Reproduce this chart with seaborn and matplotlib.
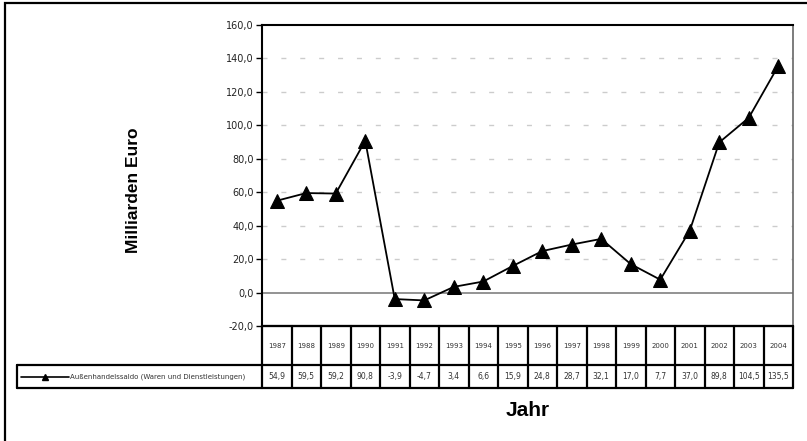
import matplotlib
matplotlib.use("Agg")
import matplotlib.pyplot as plt
import seaborn as sns
import pandas as pd
from matplotlib.lines import Line2D
from matplotlib.patches import Rectangle

years = [1987, 1988, 1989, 1990, 1991, 1992, 1993, 1994, 1995,
         1996, 1997, 1998, 1999, 2000, 2001, 2002, 2003, 2004]
saldo = [54.9, 59.5, 59.2, 90.8, -3.9, -4.7, 3.4, 6.6, 15.9,
         24.8, 28.7, 32.1, 17.0, 7.7, 37.0, 89.8, 104.5, 135.5]
series_name = "Außenhandelssaldo (Waren und Dienstleistungen)"
y_ticks = [-20, 0, 20, 40, 60, 80, 100, 120, 140, 160]

sns.set_theme(style="white")
plt.rcParams["font.family"] = ["DejaVu Sans"]

df = pd.DataFrame({"Jahr": years, "Saldo": saldo})

W, H = 807, 441
fig = plt.figure(figsize=(W / 100, H / 100), dpi=100)
fig.patch.set_facecolor("white")

# outer chart frame
fig.patches.append(Rectangle((5 / W, -0.05), 1.1, 1 - 3 / H + 0.05,
                             transform=fig.transFigure, fill=False,
                             edgecolor="black", linewidth=1.6, zorder=0))

left, right, top, bottom = 262, 793, 25, 326
ax = fig.add_axes([left / W, 1 - bottom / H, (right - left) / W, (bottom - top) / H])
ax.set_facecolor("white")

sns.lineplot(data=df, x="Jahr", y="Saldo", ax=ax, color="black", linewidth=1.3,
             marker="^", markersize=9.5, markeredgecolor="black",
             markerfacecolor="black", zorder=5)

ax.set_xlim(years[0] - 0.5, years[-1] + 0.5)
ax.set_ylim(y_ticks[0], y_ticks[-1])
ax.set_yticks(y_ticks)
ax.set_yticklabels([f"{v:.1f}".replace(".", ",") for v in y_ticks],
                   fontsize=7, color="#222222")
ax.set_xticks([])
ax.set_xlabel("")
ax.set_ylabel("")
ax.tick_params(axis="y", direction="out", length=4, width=1, color="black", pad=2, left=True)

for v in y_ticks[1:-1]:
    if v == 0:
        ax.axhline(0, color="#808080", linewidth=1.2, zorder=1)
    else:
        ax.axhline(v, color="#cccccc", linewidth=1, dashes=(3.6, 10), zorder=1)

for side in ["left", "top", "bottom"]:
    ax.spines[side].set_visible(True)
    ax.spines[side].set_color("black")
    ax.spines[side].set_linewidth(1.5)
ax.spines["right"].set_color("#666666")
ax.spines["right"].set_linewidth(1.2)

# data table below the plot
trans = ax.get_xaxis_transform()
y_top, y_mid, y_bot = 0.0, -39 / 301, -62 / 301
x0, x1 = years[0] - 0.5, years[-1] + 0.5
legend_left = x0 - (left - 17) / ((right - left) / len(years))
lw_tab = 1.6
ax.add_line(Line2D([x0, x1], [y_top, y_top], transform=trans, color="black", lw=lw_tab, clip_on=False))
ax.add_line(Line2D([legend_left, x1], [y_mid, y_mid], transform=trans, color="black", lw=lw_tab, clip_on=False))
ax.add_line(Line2D([legend_left, x1], [y_bot, y_bot], transform=trans, color="black", lw=lw_tab, clip_on=False))
ax.add_line(Line2D([legend_left, legend_left], [y_mid, y_bot], transform=trans, color="black", lw=lw_tab, clip_on=False))
for i in range(len(years) + 1):
    xb = x0 + i
    ax.add_line(Line2D([xb, xb], [y_top, y_bot], transform=trans, color="black", lw=lw_tab, clip_on=False))

for yr, val in zip(years, saldo):
    ax.text(yr, (y_top + y_mid) / 2, str(yr), transform=trans, ha="center", va="center",
            fontsize=5, color="#333333", clip_on=False)
    ax.text(yr, (y_mid + y_bot) / 2, f"{val:.1f}".replace(".", ","), transform=trans,
            ha="center", va="center", fontsize=5.5, color="#333333", clip_on=False)

# legend key inside the table
key_x0 = legend_left + (21 - 17) / 29.5
key_x1 = legend_left + (69 - 17) / 29.5
y_key = (y_mid + y_bot) / 2
ax.add_line(Line2D([key_x0, key_x1], [y_key, y_key], transform=trans, color="black", lw=1.2, clip_on=False))
ax.add_line(Line2D([(key_x0 + key_x1) / 2], [y_key], transform=trans, color="black", marker="^",
                   markersize=4, linestyle="none", clip_on=False))
ax.text(key_x1 + 0.02, y_key, series_name, transform=trans, ha="left", va="center",
        fontsize=5, color="#333333", clip_on=False)

fig.text(133 / W, 1 - 190 / H, "Milliarden Euro", rotation=90, ha="center", va="center",
         fontsize=12.5, fontweight="bold", color="black", family=["Liberation Sans"])
fig.text(528 / W, 1 - 410 / H, "Jahr", ha="center", va="center",
         fontsize=15, fontweight="bold", color="black", family=["Liberation Sans"])

fig.savefig("out.png", dpi=100, facecolor="white")
